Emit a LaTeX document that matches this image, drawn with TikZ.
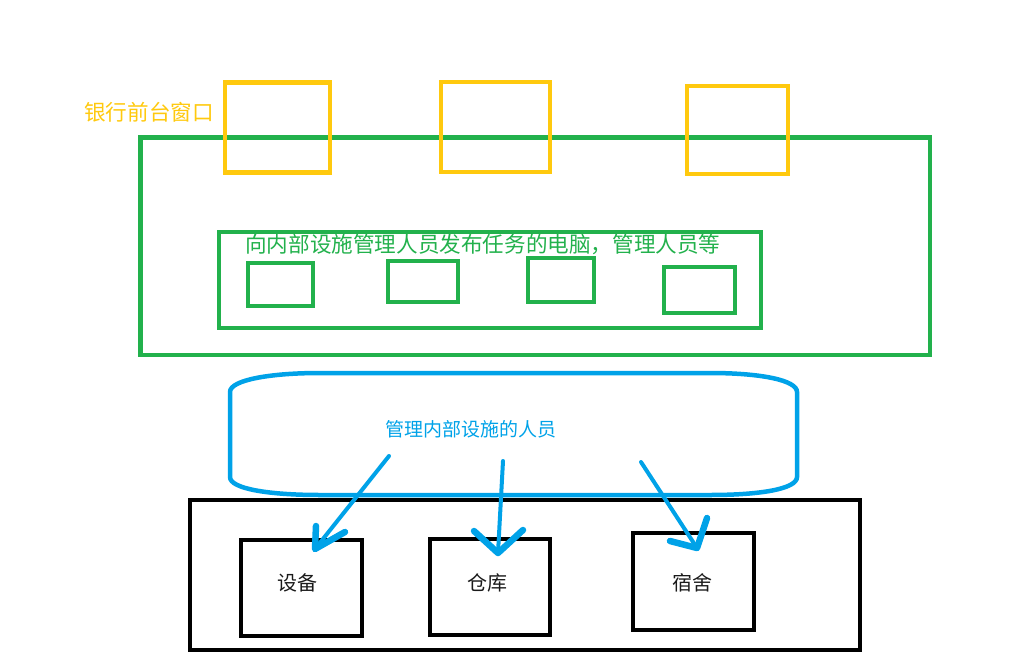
\documentclass[tikz,border=0pt]{standalone}
\usepackage{fontspec}
\newfontfamily\cjk{Noto Sans CJK SC}
\definecolor{pgold}{HTML}{FFC90E}
\definecolor{pgreen}{HTML}{22B14C}
\definecolor{pblue}{HTML}{00A2E8}
\definecolor{ptext}{HTML}{1A1A1A}
\begin{document}
\begin{tikzpicture}[x=1pt,y=-1pt,
  ybox/.style={draw=pgold,line width=4.5pt,inner sep=0pt},
  gbox/.style={draw=pgreen,line width=4.5pt,inner sep=0pt},
  kbox/.style={draw=black,line width=4.5pt,inner sep=0pt},
  lbl/.style={inner sep=0pt,font=\cjk\fontsize{21.6}{24}\selectfont},
  shaft/.style={draw=pblue,line width=4pt,line cap=round},
  ahead/.style={draw=pblue,line width=6.5pt,line cap=round,line join=round}]
\useasboundingbox (0,0) rectangle (1015,659);
% green outer and inner
\node[gbox,minimum width=789.5pt,minimum height=217.5pt] (outer) at (535.25,246.25) {};
\node[gbox,minimum width=542pt,minimum height=96pt] (inner) at (490,280) {};
% yellow windows
\node[ybox,minimum width=105pt,minimum height=90pt] (y1) at (277.5,127.5) {};
\node[ybox,minimum width=109pt,minimum height=90pt] (y2) at (495.5,127) {};
\node[ybox,minimum width=101pt,minimum height=88pt] (y3) at (737.5,130) {};
\node[lbl,text=pgold,anchor=west] (ylabel) at (84,112) {银行前台窗口};
% green small boxes
\node[gbox,minimum width=65pt,minimum height=43pt] (g1) at (280.5,284.5) {};
\node[gbox,minimum width=70pt,minimum height=41pt] (g2) at (423,281.5) {};
\node[gbox,minimum width=66pt,minimum height=44pt] (g3) at (561,280) {};
\node[gbox,minimum width=71pt,minimum height=46pt] (g4) at (699.5,290) {};
\node[lbl,text=pgreen,anchor=west] (glabel) at (245,245) {向内部设施管理人员发布任务的电脑，管理人员等};
% blue staff shape
\draw[pblue,line width=4.5pt] (230,392) .. controls (230,380) and (270,373) .. (320,373)
  -- (710,373) .. controls (760,373) and (797,380) .. (797,392)
  -- (797,477) .. controls (797,489) and (760,495) .. (710,495)
  -- (320,495) .. controls (270,495) and (230,489) .. (230,477) -- cycle;
\node[inner sep=0pt,text=pblue,font=\cjk\fontsize{19}{22}\selectfont] (blabel) at (471,429) {管理内部设施的人员};
% black facilities
\node[kbox,minimum width=670pt,minimum height=150pt] (fac) at (525,575) {};
\node[kbox,minimum width=121pt,minimum height=96pt] (k1) at (301.5,588) {};
\node[kbox,minimum width=120pt,minimum height=96pt] (k2) at (490,587) {};
\node[kbox,minimum width=121pt,minimum height=97pt] (k3) at (693.5,581.5) {};
\node[inner sep=0pt,text=ptext,font=\cjk\fontsize{20}{24}\selectfont] (t1) at (297,583) {设备};
\node[inner sep=0pt,text=ptext,font=\cjk\fontsize{20}{24}\selectfont] (t2) at (487,583) {仓库};
\node[inner sep=0pt,text=ptext,font=\cjk\fontsize{20}{24}\selectfont] (t3) at (692,583) {宿舍};
% arrows
\coordinate (s1) at (389,456);
\coordinate (e1) at (315,549);
\coordinate (s2) at (503,461);
\coordinate (e2) at (498,553);
\coordinate (s3) at (641,462);
\coordinate (e3) at (697,548);
\draw[shaft] (s1) -- (e1);
\draw[ahead] (316,526) -- (e1) -- (345,532);
\draw[shaft] (s2) -- (e2);
\draw[ahead] (474,531) -- (e2) -- (523,530);
\draw[shaft] (s3) -- (e3);
\draw[ahead] (670,541) -- (e3) -- (707,518);
\end{tikzpicture}
\end{document}
